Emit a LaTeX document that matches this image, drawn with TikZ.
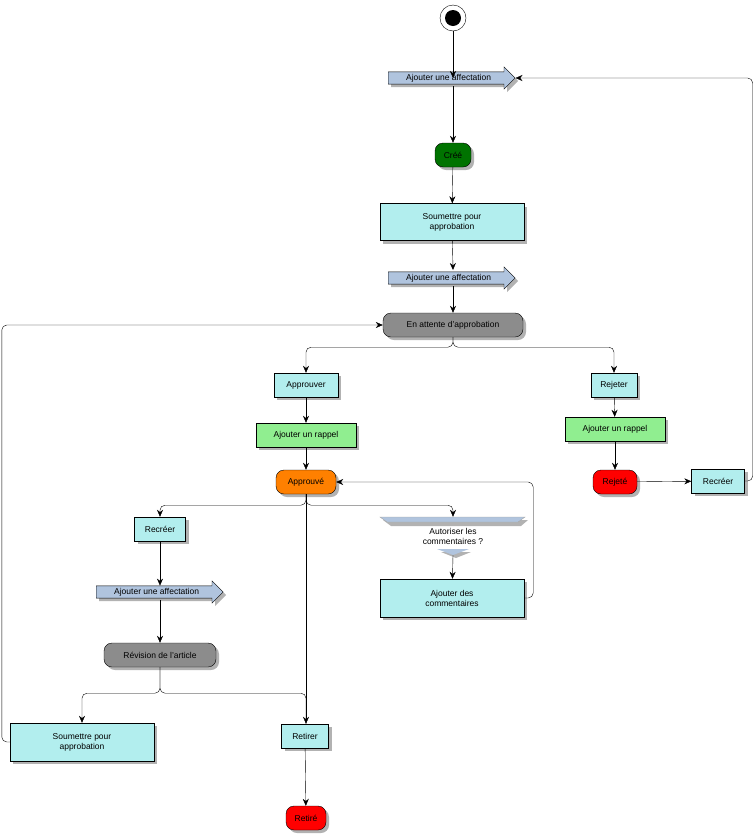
\documentclass[tikz,border=0pt]{standalone}
\usepackage{fontspec}
\setmainfont{Liberation Sans}
\usetikzlibrary{shapes.arrows,shadows,arrows.meta}
\definecolor{cyanb}{RGB}{178,238,238}
\definecolor{affb}{RGB}{176,196,222}
\definecolor{greenl}{RGB}{144,238,144}
\begin{document}
\begin{tikzpicture}[x=1pt,y=-1pt,font=\fontsize{8.5}{10}\selectfont,
  sh/.style={drop shadow={shadow xshift=3pt,shadow yshift=-3pt,fill=gray!60,opacity=1}},
  act/.style={draw,fill=cyanb,sh,minimum height=24pt,align=center,inner sep=2pt},
  st/.style={draw,rounded corners=8pt,sh,minimum height=24pt,inner sep=3pt},
  aff/.style={single arrow,draw,fill=affb,sh,single arrow head extend=5pt,minimum height=127pt,inner sep=2pt,anchor=west},
  ar/.style={-{Stealth[length=7pt,width=6pt]},rounded corners=5pt},
  ln/.style={rounded corners=5pt}]
\useasboundingbox (0,0) rectangle (755,836);
\node[circle,draw,fill=white,minimum size=26pt,inner sep=0] (s) at (453,18) {};
\fill (s.center) circle (8pt);
\node[aff] (a1) at (388,78) {Ajouter une affectation};
\node[st,fill=green!45!black,minimum width=36pt] (cree) at (453,155) {Créé};
\node[act,minimum width=144pt,minimum height=37pt] (sp1) at (452,222) {Soumettre pour\\approbation};
\node[aff] (a2) at (388,278) {Ajouter une affectation};
\node[st,fill=gray!90,minimum width=140pt] (att) at (453,325) {En attente d'approbation};
\node[act,minimum width=64pt] (app) at (306,385) {Approuver};
\node[act,minimum width=46pt] (rej) at (614,385) {Rejeter};
\node[act,fill=greenl,minimum width=100pt] (rl) at (306,435) {Ajouter un rappel};
\node[act,fill=greenl,minimum width=100pt] (rr) at (615,429) {Ajouter un rappel};
\node[st,fill=orange,minimum width=60pt] (appd) at (306,482) {Approuvé};
\node[st,fill=red,minimum width=44pt] (rejd) at (615,482) {Rejeté};
\node[act,minimum width=53pt] (recr) at (718,481) {Recréer};
\node[act,minimum width=51pt] (recl) at (160,529) {Recréer};
\node[aff] (a3) at (96,592) {Ajouter une affectation};
\node[st,fill=gray!90,minimum width=112pt] (rev) at (160,655) {Révision de l'article};
\node[act,minimum width=144pt,minimum height=38pt] (sp2) at (82,742) {Soumettre pour\\approbation};
\node[act,minimum width=47pt] (ret) at (305,736) {Retirer};
\node[st,fill=red,minimum width=40pt] (retd) at (306,818) {Retiré};
\node[align=center,minimum height=38pt,inner sep=0] (dec) at (453,536) {Autoriser les\\commentaires ?};
\fill[gray!60] (383,520) -- (528,520) -- (521,526) -- (391,526) -- cycle;
\filldraw[fill=affb,draw=gray] (dec.north west) ++(-73+0,0) coordinate (d0);
\filldraw[fill=affb,draw=gray!70] (380,517) -- (525,517) -- (518,522) -- (387,522) -- cycle;
\fill[gray!60] (441,552) -- (471,552) -- (456,558) -- cycle;
\fill[affb] (437,549) -- (469,549) -- (453,555) -- cycle;
\node[act,minimum width=144pt,minimum height=38pt] (com) at (452,598) {Ajouter des\\commentaires};
% edges
\draw[ar] (s) -- (a1.west -| s);
\draw[ar] (453,86) -- (cree);
\draw[ar] (cree) -- (sp1);
\draw[ar] (sp1) -- (453,270);
\draw[ar] (453,286) -- (att);
\draw[ar] (att.south) -- ++(0,10) -| (app.north);
\draw[ar] (att.south) -- ++(0,10) -| (rej.north);
\draw[ar] (app) -- (rl);
\draw[ar] (rl) -- (appd);
\draw[ar] (rej) -- (rr);
\draw[ar] (rr.south -| rejd) -- (rejd);
\draw[ar] (rejd) -- (recr);
\draw[ar] (recr.east) -- ++(8,0) |- (a1.tip);
\draw[ar] (appd.south) -- ++(0,11) -| (recl.north);
\draw[ar] (appd.south) -- ++(0,11) -| (dec.north);
\draw[ar] (appd.south) -- (ret.north -| appd);
\draw[ar] (recl) -- (recl |- a3.north);
\draw[ar] (160,600) -- (rev);
\draw[ar] (rev.south) -- ++(0,26) -| (sp2.north);
\draw[ln] (rev.south) -- ++(0,26) -| (306,724);
\draw[ar] (sp2.west) -- ++(-8,0) |- (att.west);
\draw[ar] (dec.south) -- (com);
\draw[ar] (com.east) -- ++(9,0) |- (appd.east);
\draw[ar] (ret) -- (retd);
\end{tikzpicture}
\end{document}
